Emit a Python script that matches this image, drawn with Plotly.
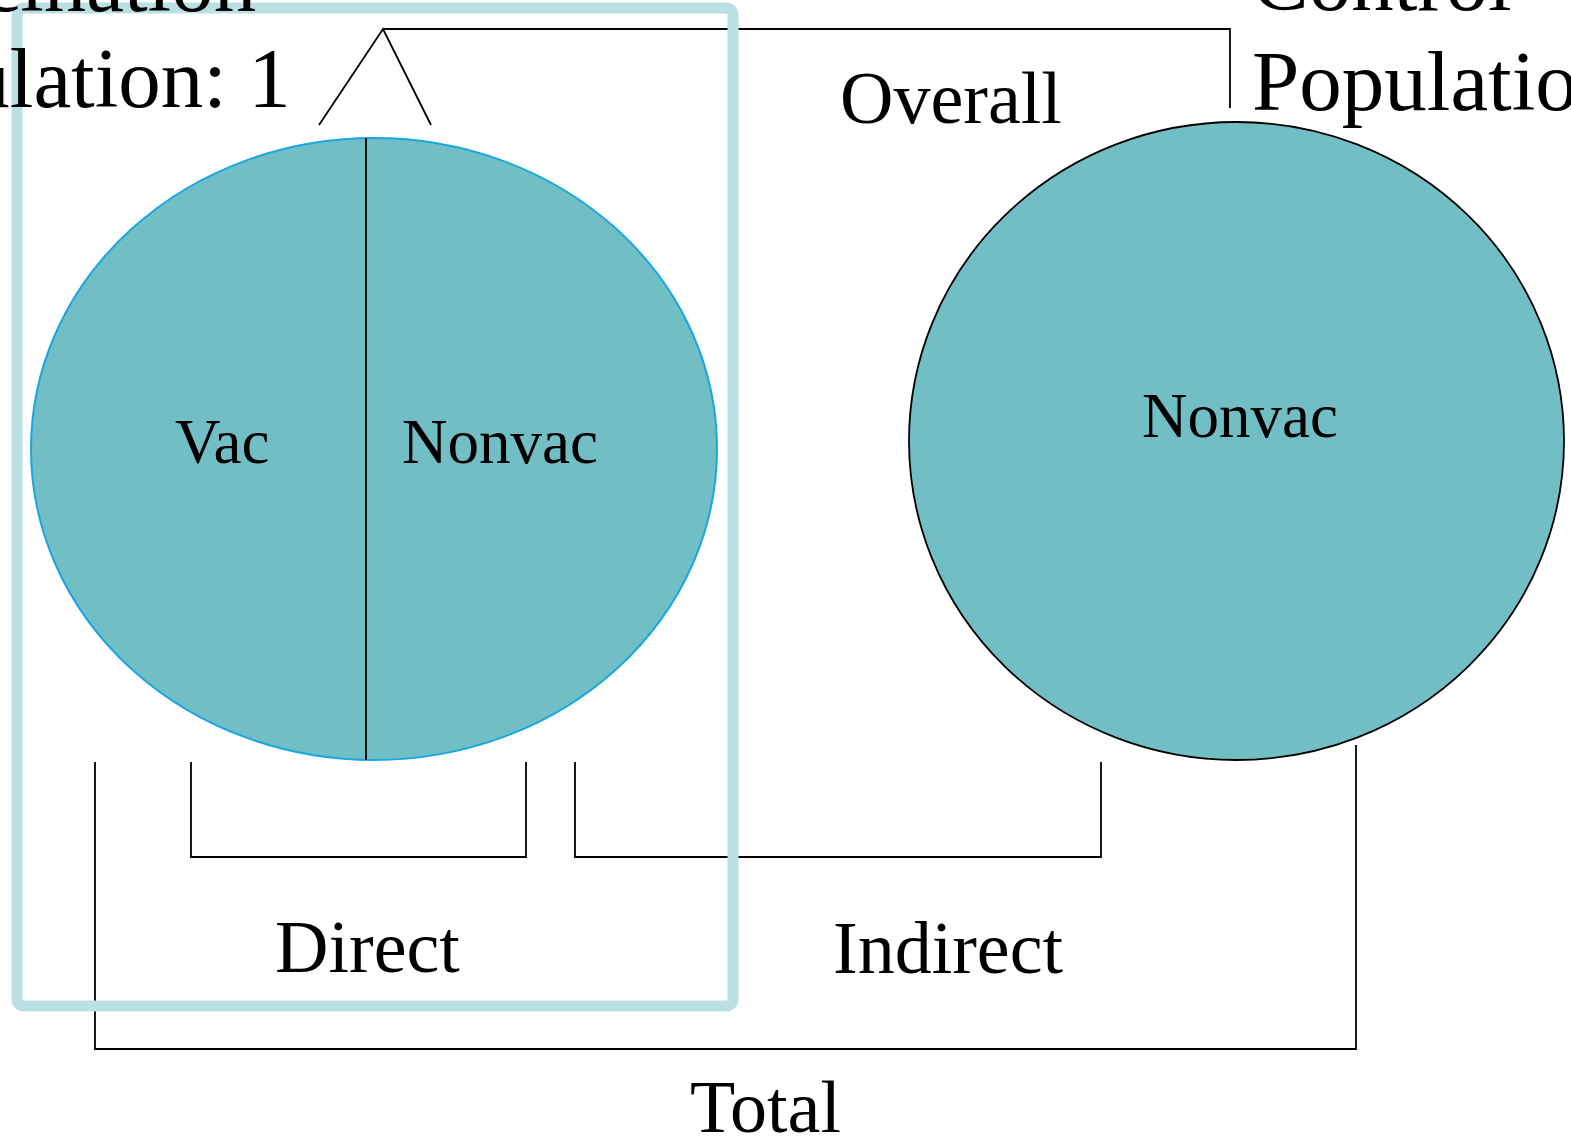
import plotly.graph_objects as go

# ---- diagram content (pixel coordinate space of the 1571x1136 canvas) ----
W, H = 1571, 1136

ellipse_labels = ["Vac", "Nonvac", "Nonvac"]
ellipse_label_x = [222, 500, 1240]
ellipse_label_y = [442, 442, 416]

effect_labels = ["Overall", "Direct", "Indirect", "Total"]
effect_label_x = [951, 367, 948, 765]
effect_label_y = [98, 947, 948, 1107]

pop_left_lines = ["Vaccination", "Population: 1"]
pop_left_x = [258, 293]
pop_left_y = [-18, 78]
pop_right_lines = ["Control", "Population"]
pop_right_x = [1250, 1250]
pop_right_y = [-19, 81]

# ellipses: x0, x1, y0, y1
left_ellipse = [31, 717, 138, 760]
right_ellipse = [909, 1564, 122, 760]
divider_x = 366

# connector polylines
overall_path = [(319, 125), (383, 29), (431, 125)]
overall_link = [(383, 29), (1230, 29), (1230, 108)]
direct_bracket = [(191, 762), (191, 857), (526, 857), (526, 762)]
indirect_bracket = [(575, 762), (575, 857), (1101, 857), (1101, 762)]
total_bracket = [(95, 762), (95, 1049), (1356, 1049), (1356, 745)]

highlight_box = [17, 733, 8, 1006]  # x0, x1, y0, y1

FILL = "#72BEC5"
EDGE_LEFT = "#1AA6E0"
BOX = "#BAE0E3"
FONT = "Liberation Serif"

fig = go.Figure()
fig.add_trace(go.Scatter(x=[0, W], y=[0, H], mode="markers",
                         marker=dict(opacity=0), hoverinfo="skip", showlegend=False))

shapes = []
shapes.append(dict(type="circle", xref="x", yref="y",
                   x0=left_ellipse[0], x1=left_ellipse[1], y0=left_ellipse[2], y1=left_ellipse[3],
                   fillcolor=FILL, line=dict(color=EDGE_LEFT, width=2), layer="below"))
shapes.append(dict(type="line", xref="x", yref="y",
                   x0=divider_x, x1=divider_x, y0=left_ellipse[2], y1=left_ellipse[3],
                   line=dict(color="black", width=1.8)))
shapes.append(dict(type="circle", xref="x", yref="y",
                   x0=right_ellipse[0], x1=right_ellipse[1], y0=right_ellipse[2], y1=right_ellipse[3],
                   fillcolor=FILL, line=dict(color="black", width=1.8), layer="below"))


def poly(points):
    return "M " + " L ".join(f"{x},{y}" for x, y in points)


for pts in [overall_path, overall_link, direct_bracket, indirect_bracket, total_bracket]:
    shapes.append(dict(type="path", xref="x", yref="y", path=poly(pts),
                       line=dict(color="black", width=1.8)))

x0, x1, y0, y1 = highlight_box
r = 8
box_path = (f"M {x0+r},{y0} L {x1-r},{y0} Q {x1},{y0} {x1},{y0+r} "
            f"L {x1},{y1-r} Q {x1},{y1} {x1-r},{y1} "
            f"L {x0+r},{y1} Q {x0},{y1} {x0},{y1-r} "
            f"L {x0},{y0+r} Q {x0},{y0} {x0+r},{y0} Z")
shapes.append(dict(type="path", xref="x", yref="y", path=box_path,
                   line=dict(color=BOX, width=11), layer="above"))


def py(ypix):
    # pixel row -> paper fraction (y axis runs top-down over the full height)
    return 1 - ypix / H


annotations = []
for t, x, y in zip(ellipse_labels, ellipse_label_x, ellipse_label_y):
    annotations.append(dict(text=t, x=x, y=y, xref="x", yref="y", showarrow=False,
                            xanchor="center", yanchor="middle",
                            font=dict(family=FONT, size=63, color="black")))
for t, x, y in zip(effect_labels, effect_label_x, effect_label_y):
    annotations.append(dict(text=t, x=x, y=y, xref="x", yref="y", showarrow=False,
                            xanchor="center", yanchor="middle",
                            font=dict(family=FONT, size=74, color="black")))
for t, x, y in zip(pop_left_lines, pop_left_x, pop_left_y):
    annotations.append(dict(text=t, x=x, y=py(y), xref="x", yref="paper", showarrow=False,
                            xanchor="right", yanchor="middle",
                            font=dict(family=FONT, size=85, color="black")))
for t, x, y in zip(pop_right_lines, pop_right_x, pop_right_y):
    annotations.append(dict(text=t, x=x, y=py(y), xref="x", yref="paper", showarrow=False,
                            xanchor="left", yanchor="middle",
                            font=dict(family=FONT, size=85, color="black")))

fig.update_layout(
    width=W, height=H,
    margin=dict(l=0, r=0, t=0, b=0),
    paper_bgcolor="white", plot_bgcolor="white",
    xaxis=dict(range=[0, W], visible=False, fixedrange=True),
    yaxis=dict(range=[H, 0], visible=False, fixedrange=True),
    shapes=shapes, annotations=annotations,
    showlegend=False,
)

fig.write_html("out.html", config={"displayModeBar": False},
               post_script="document.body.style.margin='0';")
